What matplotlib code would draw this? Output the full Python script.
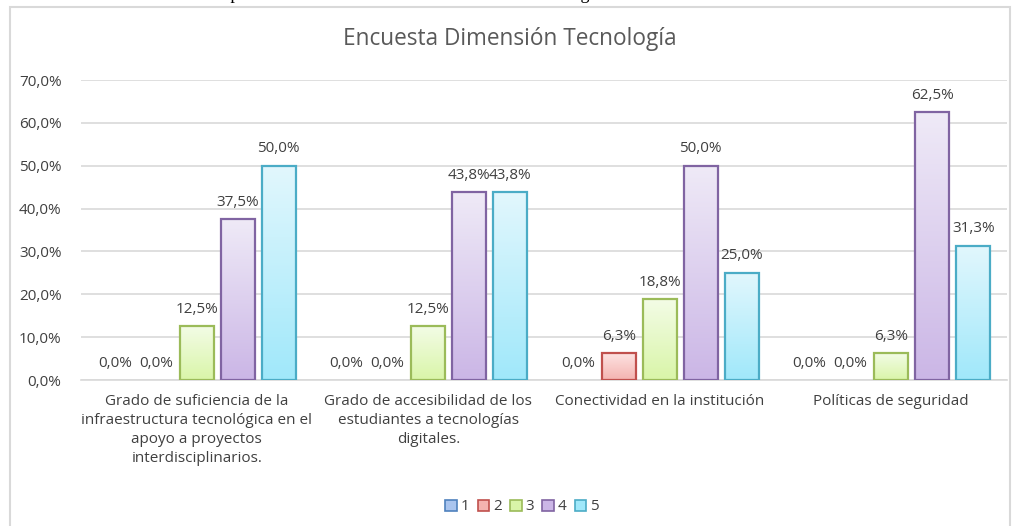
import matplotlib
matplotlib.use('Agg')
import matplotlib.pyplot as plt
import numpy as np
from matplotlib.colors import LinearSegmentedColormap
from matplotlib.patches import Rectangle

plt.rcParams['font.family'] = ['Open Sans', 'DejaVu Sans']

categorias = [
    'Grado de suficiencia de la\ninfraestructura tecnológica en el\napoyo a proyectos\ninterdisciplinarios.',
    'Grado de accesibilidad de los\nestudiantes a tecnologías\ndigitales.',
    'Conectividad en la institución',
    'Políticas de seguridad',
]
series = ['1', '2', '3', '4', '5']
valores_1 = [0.0, 0.0, 0.0, 0.0]
valores_2 = [0.0, 0.0, 6.3, 0.0]
valores_3 = [12.5, 12.5, 18.8, 6.3]
valores_4 = [37.5, 43.8, 50.0, 62.5]
valores_5 = [50.0, 43.8, 25.0, 31.3]
y_ticks = [0, 10, 20, 30, 40, 50, 60, 70]

titulo = 'Encuesta Dimensión Tecnología'
texto_sup = 'Resultados de la encuesta aplicada a los estudiantes en la dimensión tecnología'

# borde, color arriba, color abajo
estilos = [
    ('#4F81BD', '#E3ECFA', '#A9C4EE'),
    ('#C0504D', '#FDE3E2', '#F4B3B0'),
    ('#9BBB59', '#F3FCE6', '#D9F5A8'),
    ('#8064A2', '#EFEAF7', '#CBB6E6'),
    ('#4BACC6', '#E2F7FD', '#A0E8FA'),
]
TXT = '#404040'

datos = [valores_1, valores_2, valores_3, valores_4, valores_5]

fig = plt.figure(figsize=(10.14, 5.26), dpi=100)
ax = fig.add_axes([81 / 1014, 1 - 380 / 526, 926 / 1014, 300 / 526])

paso = 0.177
ancho = 0.147
x = np.arange(len(categorias))

for i, (vals, (borde, c_arriba, c_abajo)) in enumerate(zip(datos, estilos)):
    pos = x + (i - 2) * paso
    cmap = LinearSegmentedColormap.from_list(f's{i}', [c_abajo, c_arriba])
    grad = np.linspace(0, 1, 256).reshape(-1, 1)
    barras = ax.bar(pos, vals, width=ancho, facecolor='none', edgecolor=borde,
                    linewidth=1.6, zorder=3)
    for b, v in zip(barras, vals):
        if v > 0:
            im = ax.imshow(grad, extent=[b.get_x(), b.get_x() + b.get_width(), 0, v],
                           origin='lower', cmap=cmap, aspect='auto', zorder=2,
                           interpolation='bilinear')
            im.set_clip_path(b)
        else:
            b.set_edgecolor('none')
        ax.text(b.get_x() + b.get_width() / 2, v + 2.2, f'{v:.1f}%'.replace('.', ','),
                ha='center', va='bottom', fontsize=11, color=TXT, zorder=4)

ax.set_xlim(-0.5, len(categorias) - 0.5)
ax.set_ylim(0, 70)
ax.set_yticks(y_ticks)
ax.set_yticklabels([f'{t:.1f}%'.replace('.', ',') for t in y_ticks], fontsize=11, color=TXT)
ax.yaxis.grid(True, color='#D9D9D9', linewidth=1.2, zorder=0)
ax.set_axisbelow(True)
ax.tick_params(axis='y', length=0, pad=14)
ax.set_xticks(x)
ax.set_xticklabels(categorias, fontsize=11, color=TXT, linespacing=1.38)
ax.tick_params(axis='x', length=0, pad=10)
for s in ['top', 'right', 'left']:
    ax.spines[s].set_visible(False)
ax.spines['bottom'].set_color('#D9D9D9')
ax.spines['bottom'].set_linewidth(1.2)

fig.text(510 / 1014, 1 - 39 / 526, titulo, ha='center', va='center', fontsize=16.3, color='#595959')

handles = [Rectangle((0, 0), 1, 1, facecolor=c_abajo, edgecolor=borde, linewidth=1.2)
           for borde, _, c_abajo in estilos]
fig.legend(handles, series, loc='center', bbox_to_anchor=(522 / 1014, 1 - 507 / 526),
           ncol=5, frameon=False, fontsize=11, handlelength=0.75, handleheight=0.75,
           handletextpad=0.25, columnspacing=0.55, labelcolor=TXT)

# marco del grafico
fig.add_artist(Rectangle((10 / 1014, -0.01), 1000 / 1014, 1 - 7 / 526 + 0.01,
                         transform=fig.transFigure, fill=False, edgecolor='#D9D9D9',
                         linewidth=1.5))

# texto del documento recortado arriba
fig.text(33 / 1014, 1 + 1 / 526, texto_sup, ha='left', va='baseline', fontsize=13,
         family='Liberation Serif', color='black')

fig.savefig('out.png', dpi=100)
